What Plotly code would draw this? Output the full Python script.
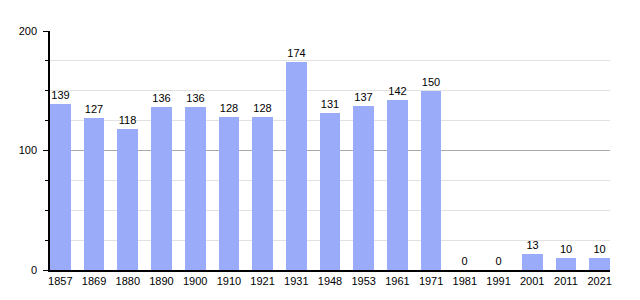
import plotly.graph_objects as go

years = ["1857", "1869", "1880", "1890", "1900", "1910", "1921", "1931", "1948",
         "1953", "1961", "1971", "1981", "1991", "2001", "2011", "2021"]
population = [139, 127, 118, 136, 136, 128, 128, 174, 131, 137, 142, 150, 0, 0, 13, 10, 10]
y_ticks = [0, 100, 200]

x_pos = list(range(len(years)))
bar_w = 0.614

fig = go.Figure()
fig.add_trace(go.Bar(
    x=x_pos, y=population, width=bar_w,
    marker=dict(color="#9aabfa", line=dict(width=0)),
    text=[str(v) for v in population], textposition="outside",
    textfont=dict(size=11, color="#000000", family="Liberation Sans, Arial, sans-serif"),
    cliponaxis=False,
))

fig.update_layout(
    width=640, height=300,
    margin=dict(l=50, r=30, t=31, b=30),
    paper_bgcolor="white", plot_bgcolor="white",
    showlegend=False,
    font=dict(family="Liberation Sans, Arial, sans-serif", size=11, color="#000000"),
    bargap=0,
)
fig.update_xaxes(
    range=[-bar_w / 2, len(years) - 1 + bar_w / 2],
    tickmode="array", tickvals=x_pos, ticktext=years,
    showline=True, linecolor="#000000", linewidth=1.5,
    showgrid=False, ticks="", zeroline=False,
    tickfont=dict(size=11),
)
fig.update_yaxes(
    range=[0, 200],
    tickmode="array", tickvals=y_ticks,
    showline=True, linecolor="#000000", linewidth=1.5,
    ticks="outside", ticklen=5, tickcolor="#000000", tickwidth=1,
    ticklabelstandoff=4,
    showgrid=True, gridcolor="#a9a9a9", gridwidth=1,
    zeroline=False,
    minor=dict(dtick=25, ticks="outside", ticklen=3, tickcolor="#000000",
               showgrid=True, gridcolor="#e2e2e2", gridwidth=1),
    tickfont=dict(size=11),
)

fig.write_html("out.html")
